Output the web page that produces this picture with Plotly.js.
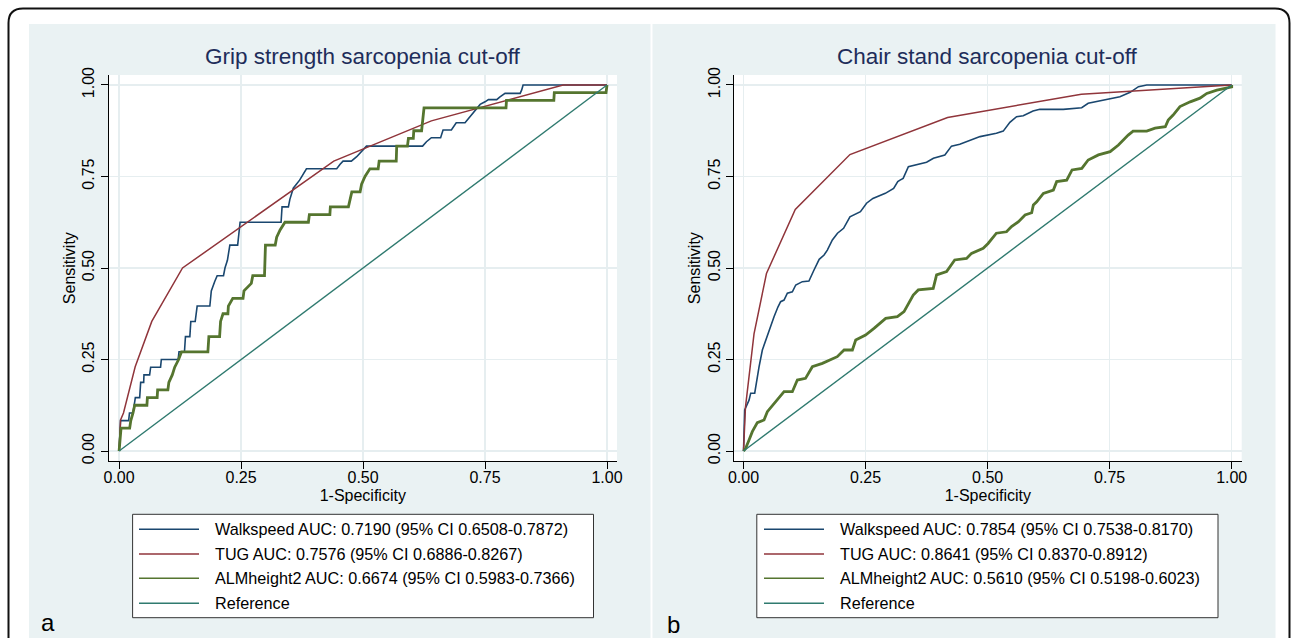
<!DOCTYPE html>
<html>
<head>
<meta charset="utf-8">
<script src="https://cdn.plot.ly/plotly-3.0.1.min.js"></script>
<style>
html, body { margin: 0; padding: 0; background: #ffffff; }
#chart { width: 1292px; height: 638px; }
</style>
</head>
<body>
<div id="chart"></div>
<script>
// ---------------- data ----------------
const tickVals = [0, 0.25, 0.5, 0.75, 1];
const tickText = ['0.00', '0.25', '0.50', '0.75', '1.00'];
const panelTitles = ['Grip strength sarcopenia cut-off', 'Chair stand sarcopenia cut-off'];
const panelLabels = ['a', 'b'];
const xTitle = '1-Specificity';
const yTitle = 'Sensitivity';
const seriesNames = ['Walkspeed', 'TUG', 'ALMheight2', 'Reference'];
const legendGrip = [
  'Walkspeed AUC: 0.7190 (95% CI 0.6508-0.7872)',
  'TUG AUC: 0.7576 (95% CI 0.6886-0.8267)',
  'ALMheight2 AUC: 0.6674 (95% CI 0.5983-0.7366)',
  'Reference'
];
const legendChair = [
  'Walkspeed AUC: 0.7854 (95% CI 0.7538-0.8170)',
  'TUG AUC: 0.8641 (95% CI 0.8370-0.8912)',
  'ALMheight2 AUC: 0.5610 (95% CI 0.5198-0.6023)',
  'Reference'
];

// Panel a: grip strength cut-off
const gripWalkX = [0, 0.003, 0.0196, 0.0213, 0.0285, 0.0333, 0.0422, 0.0442, 0.0504, 0.051, 0.0626, 0.0647, 0.085, 0.0866, 0.121, 0.1228, 0.134, 0.136, 0.145, 0.147, 0.156, 0.160, 0.186, 0.189, 0.196, 0.201, 0.214, 0.217, 0.222, 0.227, 0.243, 0.248, 0.332, 0.334, 0.347, 0.35, 0.357, 0.37, 0.384, 0.446, 0.453, 0.459, 0.476, 0.487, 0.507, 0.622, 0.63, 0.64, 0.659, 0.662, 0.664, 0.681, 0.688, 0.691, 0.709, 0.716, 0.723, 0.726, 0.733, 0.74, 0.75, 0.757, 0.774, 0.78, 0.791, 0.822, 0.825, 0.828, 1.0];
const gripWalkY = [0, 0.083, 0.083, 0.104, 0.104, 0.146, 0.146, 0.1875, 0.1875, 0.208, 0.208, 0.229, 0.229, 0.25, 0.25, 0.271, 0.271, 0.3125, 0.3125, 0.354, 0.354, 0.396, 0.396, 0.4375, 0.463, 0.479, 0.479, 0.5, 0.521, 0.5625, 0.5625, 0.625, 0.625, 0.667, 0.667, 0.6875, 0.718, 0.74, 0.771, 0.771, 0.7835, 0.792, 0.792, 0.804, 0.833, 0.833, 0.845, 0.856, 0.856, 0.868, 0.877, 0.877, 0.891, 0.897, 0.897, 0.909, 0.918, 0.925, 0.936, 0.947, 0.954, 0.96, 0.96, 0.967, 0.977, 0.977, 0.986, 1.0, 1.0];
const gripTugX = [0, 0.003, 0.009, 0.033, 0.067, 0.13, 0.44, 0.64, 0.91, 1.0];
const gripTugY = [0, 0.085, 0.104, 0.23, 0.354, 0.5, 0.792, 0.902, 1.0, 1.0];
const gripAlmX = [0, 0.004, 0.0217, 0.024, 0.0285, 0.032, 0.057, 0.058, 0.078, 0.079, 0.100, 0.102, 0.109, 0.114, 0.122, 0.128, 0.182, 0.184, 0.206, 0.208, 0.213, 0.223, 0.224, 0.233, 0.254, 0.256, 0.271, 0.274, 0.298, 0.300, 0.320, 0.323, 0.330, 0.340, 0.388, 0.390, 0.432, 0.433, 0.470, 0.473, 0.477, 0.494, 0.497, 0.504, 0.514, 0.531, 0.533, 0.568, 0.569, 0.591, 0.593, 0.603, 0.604, 0.620, 0.622, 0.625, 0.793, 0.794, 0.891, 0.892, 0.998, 1.0];
const gripAlmY = [0, 0.0625, 0.0625, 0.083, 0.104, 0.125, 0.125, 0.146, 0.146, 0.167, 0.167, 0.1875, 0.208, 0.229, 0.25, 0.271, 0.271, 0.3125, 0.3125, 0.354, 0.375, 0.375, 0.396, 0.417, 0.417, 0.4375, 0.458, 0.479, 0.479, 0.5625, 0.5625, 0.584, 0.604, 0.625, 0.625, 0.646, 0.646, 0.667, 0.667, 0.6875, 0.708, 0.708, 0.729, 0.75, 0.771, 0.771, 0.792, 0.792, 0.833, 0.833, 0.854, 0.854, 0.875, 0.875, 0.896, 0.9375, 0.9375, 0.958, 0.958, 0.979, 0.979, 1.0];

// Panel b: chair stand cut-off
const chairWalkX = [0, 0.0024, 0.0113, 0.0147, 0.0229, 0.027, 0.0318, 0.0386, 0.0454, 0.0543, 0.0625, 0.0707, 0.076, 0.083, 0.0898, 0.1, 0.107, 0.1205, 0.134, 0.1444, 0.155, 0.165, 0.1717, 0.182, 0.1925, 0.205, 0.218, 0.2395, 0.252, 0.265, 0.2905, 0.3075, 0.316, 0.3206, 0.327, 0.3377, 0.375, 0.389, 0.4124, 0.426, 0.443, 0.4845, 0.518, 0.532, 0.5456, 0.5593, 0.573, 0.593, 0.607, 0.655, 0.6927, 0.706, 0.751, 0.771, 0.792, 0.809, 0.826, 1.0];
const chairWalkY = [0, 0.112, 0.139, 0.158, 0.158, 0.194, 0.23, 0.276, 0.303, 0.34, 0.367, 0.394, 0.408, 0.4125, 0.431, 0.435, 0.4536, 0.4627, 0.4645, 0.4945, 0.5237, 0.5355, 0.549, 0.5765, 0.595, 0.6085, 0.64, 0.654, 0.677, 0.69, 0.704, 0.7177, 0.736, 0.74, 0.745, 0.777, 0.789, 0.80, 0.8087, 0.833, 0.838, 0.859, 0.868, 0.874, 0.898, 0.9135, 0.916, 0.929, 0.9335, 0.9335, 0.938, 0.95, 0.962, 0.968, 0.98, 0.9955, 1.0, 1.0];
const chairTugX = [0, 0.004, 0.0215, 0.047, 0.106, 0.218, 0.418, 0.692, 1.0];
const chairTugY = [0, 0.12, 0.32, 0.485, 0.66, 0.81, 0.911, 0.975, 1.0];
const chairAlmX = [0, 0.0044, 0.0113, 0.018, 0.0283, 0.042, 0.0488, 0.0625, 0.083, 0.1, 0.1103, 0.127, 0.141, 0.1615, 0.1786, 0.192, 0.206, 0.223, 0.2298, 0.25, 0.2673, 0.2912, 0.3151, 0.3288, 0.3477, 0.358, 0.3886, 0.3955, 0.416, 0.4326, 0.4569, 0.467, 0.491, 0.501, 0.518, 0.5387, 0.549, 0.5633, 0.5767, 0.5903, 0.5937, 0.6006, 0.6142, 0.6347, 0.6415, 0.662, 0.673, 0.693, 0.706, 0.727, 0.751, 0.768, 0.788, 0.798, 0.826, 0.843, 0.864, 0.87, 0.88, 0.894, 0.915, 0.935, 0.949, 0.9696, 0.9864, 1.0, 1.0];
const chairAlmY = [0, 0.0073, 0.030, 0.0528, 0.0774, 0.0847, 0.1075, 0.13, 0.162, 0.162, 0.194, 0.1985, 0.2304, 0.2395, 0.2486, 0.2577, 0.276, 0.276, 0.3033, 0.317, 0.335, 0.3625, 0.367, 0.3807, 0.426, 0.44, 0.4444, 0.481, 0.49, 0.522, 0.526, 0.54, 0.554, 0.567, 0.595, 0.599, 0.613, 0.6266, 0.645, 0.651, 0.672, 0.681, 0.704, 0.713, 0.736, 0.74, 0.768, 0.772, 0.795, 0.809, 0.818, 0.836, 0.863, 0.874, 0.874, 0.882, 0.886, 0.904, 0.918, 0.941, 0.954, 0.964, 0.977, 0.986, 0.991, 0.995, 1.0];

const refX = [0, 1];
const refY = [0, 1];

// ---------------- styling / layout ----------------
const W = 1292, H = 638;
const px = p => p / W;           // pixel -> paper x
const py = p => 1 - p / H;       // pixel -> paper y
const FONT = 'Liberation Sans, Arial, Helvetica, sans-serif';
const colors = ['#1a476f', '#90353b', '#55752f', '#2f7a6f'];
const widths = [1.6, 1.5, 2.8, 1.4];
const bgColor = '#eaf2f3';
const gridColor = '#e6eef0';
const titleColor = '#1e2d5a';

const panels = [
  { xa: 'x', ya: 'y', series: [[gripWalkX, gripWalkY], [gripTugX, gripTugY], [gripAlmX, gripAlmY], [refX, refY]],
    bg: [29, 650.5], plot: [108.6, 617], xrange: [-0.0215, 1.0205],
    legendBox: [132.6, 593.5], legendLine: [139, 199], legendText: 212.6, legend: legendGrip, label: [47.6, 622.6] },
  { xa: 'x2', ya: 'y2', series: [[chairWalkX, chairWalkY], [chairTugX, chairTugY], [chairAlmX, chairAlmY], [refX, refY]],
    bg: [652.5, 1275.5], plot: [734, 1241.7], xrange: [-0.0195, 1.0205],
    legendBox: [756.8, 1218], legendLine: [764, 824], legendText: 837.5, legend: legendChair, label: [673.5, 624.3] }
];
const plotTop = 75, plotBottom = 461.3;
const yRange = [-0.0281, 1.0273];
const legendRows = [529.3, 554, 578.3, 603.3];

const traces = [];
const shapes = [];
const annotations = [];

// outer rounded frame
shapes.push({
  type: 'path', xref: 'paper', yref: 'paper', layer: 'above',
  path: `M ${px(8.5)},${py(650)} L ${px(8.5)},${py(23)} Q ${px(8.5)},${py(8.5)} ${px(23)},${py(8.5)} ` +
        `L ${px(1275)},${py(8.5)} Q ${px(1289.5)},${py(8.5)} ${px(1289.5)},${py(23)} L ${px(1289.5)},${py(650)}`,
  line: { color: '#111111', width: 2 }
});

const layout = {
  width: W, height: H,
  margin: { l: 0, r: 0, t: 0, b: 0, pad: 0 },
  paper_bgcolor: '#ffffff',
  plot_bgcolor: 'rgba(0,0,0,0)',
  showlegend: false,
  font: { family: FONT, color: '#000000', size: 16 }
};

panels.forEach((p, i) => {
  // panel background and white plot region
  shapes.push({ type: 'rect', xref: 'paper', yref: 'paper', layer: 'below',
    x0: px(p.bg[0]), x1: px(p.bg[1]), y0: py(650), y1: py(24),
    fillcolor: bgColor, line: { width: 0 } });
  shapes.push({ type: 'rect', xref: 'paper', yref: 'paper', layer: 'below',
    x0: px(p.plot[0]), x1: px(p.plot[1]), y0: py(plotBottom), y1: py(plotTop),
    fillcolor: '#ffffff', line: { width: 0 } });

  // traces
  p.series.forEach((s, k) => {
    traces.push({
      type: 'scatter', mode: 'lines', x: s[0], y: s[1], name: seriesNames[k],
      xaxis: p.xa, yaxis: p.ya, hoverinfo: 'skip',
      line: { color: colors[k], width: widths[k], shape: 'linear' }
    });
  });

  // axes
  const axName = i === 0 ? '' : '2';
  layout['xaxis' + axName] = {
    domain: [px(p.plot[0]), px(p.plot[1])], range: p.xrange, anchor: 'y' + axName,
    tickmode: 'array', tickvals: tickVals, ticktext: tickText,
    ticks: 'outside', ticklen: 7, tickwidth: 1, tickcolor: '#000000',
    ticklabelstandoff: -6,
    showline: true, linecolor: '#000000', linewidth: 1,
    showgrid: true, gridcolor: gridColor, gridwidth: 1.3, zeroline: false,
    tickfont: { family: FONT, size: 16, color: '#000000' },
    title: { text: xTitle, font: { family: FONT, size: 16, color: '#000000' }, standoff: 5 },
    fixedrange: true, automargin: false
  };
  layout['yaxis' + axName] = {
    domain: [py(plotBottom), py(plotTop)], range: yRange, anchor: 'x' + axName,
    tickmode: 'array', tickvals: tickVals, ticktext: tickText, tickangle: -90,
    ticks: 'outside', ticklen: 7, tickwidth: 1, tickcolor: '#000000',
    showline: true, linecolor: '#000000', linewidth: 1,
    showgrid: true, gridcolor: gridColor, gridwidth: 1.3, zeroline: false,
    tickfont: { family: FONT, size: 16, color: '#000000' },
    title: { text: yTitle, font: { family: FONT, size: 16, color: '#000000' }, standoff: 0 },
    fixedrange: true, automargin: false
  };

  // panel title
  annotations.push({ xref: 'paper', yref: 'paper', x: px((p.plot[0] + p.plot[1]) / 2), y: py(57),
    xanchor: 'center', yanchor: 'middle', showarrow: false, text: panelTitles[i],
    font: { family: FONT, size: 22.5, color: titleColor } });

  // panel letter
  annotations.push({ xref: 'paper', yref: 'paper', x: px(p.label[0]), y: py(p.label[1]),
    xanchor: 'center', yanchor: 'middle', showarrow: false, text: panelLabels[i],
    font: { family: FONT, size: 24, color: '#000000' } });

  // legend box
  shapes.push({ type: 'rect', xref: 'paper', yref: 'paper', layer: 'above',
    x0: px(p.legendBox[0]), x1: px(p.legendBox[1]), y0: py(617.7), y1: py(514.3),
    fillcolor: '#ffffff', line: { color: '#333333', width: 1 } });
  p.legend.forEach((txt, k) => {
    shapes.push({ type: 'line', xref: 'paper', yref: 'paper', layer: 'above',
      x0: px(p.legendLine[0]), x1: px(p.legendLine[1]), y0: py(legendRows[k]), y1: py(legendRows[k]),
      line: { color: colors[k], width: 1.6 } });
    annotations.push({ xref: 'paper', yref: 'paper', x: px(p.legendText), y: py(legendRows[k]),
      xanchor: 'left', yanchor: 'middle', showarrow: false, text: txt,
      font: { family: FONT, size: 16.2, color: '#000000' } });
  });
});

layout.shapes = shapes;
layout.annotations = annotations;

Plotly.newPlot('chart', traces, layout, { staticPlot: true, displayModeBar: false });
</script>
</body>
</html>
